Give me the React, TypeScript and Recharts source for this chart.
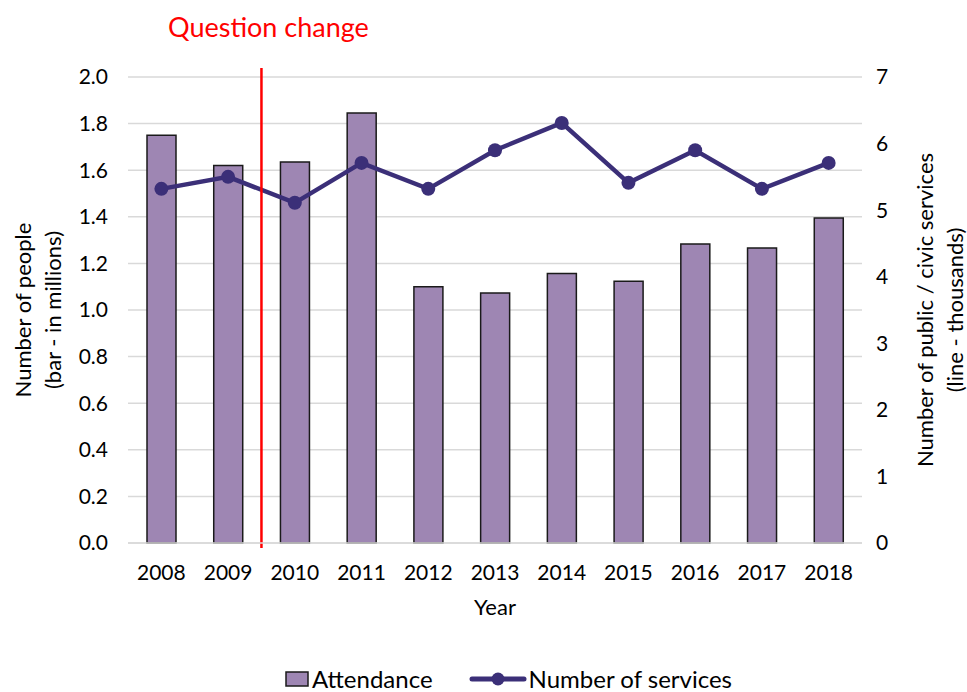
import React from 'react';
import {
  ComposedChart,
  Bar,
  Line,
  XAxis,
  YAxis,
  CartesianGrid,
  Legend,
  ReferenceLine,
} from 'recharts';

const years = ['2008', '2009', '2010', '2011', '2012', '2013', '2014', '2015', '2016', '2017', '2018'];
const attendance = [1.75, 1.62, 1.635, 1.845, 1.1, 1.073, 1.157, 1.123, 1.283, 1.266, 1.395];
const services = [5.32, 5.5, 5.11, 5.71, 5.32, 5.9, 6.31, 5.41, 5.9, 5.32, 5.71];
const leftTicks = [0, 0.2, 0.4, 0.6, 0.8, 1.0, 1.2, 1.4, 1.6, 1.8, 2.0];
const rightTicks = [0, 1, 2, 3, 4, 5, 6, 7];

const data = years.map((year, i) => ({
  year,
  attendance: attendance[i],
  services: services[i],
}));

const FONT = 'Lato, "Open Sans", sans-serif';
const BAR_FILL = '#9e86b3';
const LINE_COLOR = '#3b2f78';

const LeftTitle = (props: any) => {
  const { viewBox } = props;
  const cy = viewBox.y + viewBox.height / 2;
  return (
    <g fontFamily={FONT} fontSize={22} fill="#000">
      <text x={31} y={cy} textAnchor="middle" transform={`rotate(-90, 31, ${cy})`}>
        Number of people
      </text>
      <text x={61} y={cy} textAnchor="middle" transform={`rotate(-90, 61, ${cy})`}>
        (bar - in millions)
      </text>
    </g>
  );
};

const RightTitle = (props: any) => {
  const { viewBox } = props;
  const cy = viewBox.y + viewBox.height / 2;
  const x1 = 933;
  const x2 = 963;
  return (
    <g fontFamily={FONT} fontSize={22} fill="#000">
      <text x={x1} y={cy} textAnchor="middle" transform={`rotate(-90, ${x1}, ${cy})`}>
        Number of public / civic services
      </text>
      <text x={x2} y={cy} textAnchor="middle" transform={`rotate(-90, ${x2}, ${cy})`}>
        (line - thousands)
      </text>
    </g>
  );
};

const ChangeLine = (props: any) => {
  const top = Math.min(props.y1, props.y2);
  const bottom = Math.max(props.y1, props.y2);
  return <line x1={props.x1} x2={props.x2} y1={top - 9} y2={bottom + 5} stroke="#ff0000" strokeWidth={2.5} />;
};

const LegendContent = () => (
  <div
    style={{
      display: 'flex',
      justifyContent: 'center',
      alignItems: 'center',
      fontFamily: FONT,
      fontSize: 24,
      color: '#000',
      paddingLeft: 50,
      lineHeight: '26px',
    }}
  >
    <svg width={24} height={16} style={{ marginRight: 3 }}>
      <rect x={1} y={1} width={22} height={14} fill={BAR_FILL} stroke="#1a1a1a" strokeWidth={1.5} />
    </svg>
    <span style={{ marginRight: 36 }}>Attendance</span>
    <svg width={58} height={16} style={{ marginRight: 2 }}>
      <line x1={3} x2={55} y1={8} y2={8} stroke={LINE_COLOR} strokeWidth={5} strokeLinecap="round" />
      <circle cx={29} cy={8} r={6.5} fill={LINE_COLOR} />
    </svg>
    <span>Number of services</span>
  </div>
);

export default function App() {
  return (
    <div style={{ position: 'absolute', left: 0, top: 0, width: 967, height: 692, background: '#fff' }}>
      <ComposedChart
        width={967}
        height={692}
        data={data}
        margin={{ top: 77, right: 0, left: 0, bottom: 0 }}
        barCategoryGap={0}
      >
        <CartesianGrid vertical={false} stroke="#d9d9d9" strokeWidth={1.5} yAxisId="left" />
        <XAxis
          dataKey="year"
          height={123}
          tickLine={false}
          axisLine={{ stroke: '#d9d9d9', strokeWidth: 1.5 }}
          tickSize={0}
          tickMargin={22}
          tick={{ fontFamily: FONT, fontSize: 21, fill: '#000' }}
          label={{ value: 'Year', position: 'insideTop', offset: 56, style: { fontFamily: FONT, fontSize: 22, fill: '#000' } }}
        />
        <YAxis
          yAxisId="left"
          width={128}
          domain={[0, 2]}
          ticks={leftTicks}
          tickFormatter={(v: number) => v.toFixed(1)}
          tickLine={false}
          axisLine={false}
          tickSize={0}
          tickMargin={20}
          tick={{ fontFamily: FONT, fontSize: 21, fill: '#000' }}
          label={<LeftTitle />}
        />
        <YAxis
          yAxisId="right"
          orientation="right"
          width={105}
          domain={[0, 7]}
          ticks={rightTicks}
          tickLine={false}
          axisLine={false}
          tickSize={0}
          tickMargin={14}
          tick={{ fontFamily: FONT, fontSize: 21, fill: '#000' }}
          label={<RightTitle />}
        />
        <Bar
          yAxisId="left"
          dataKey="attendance"
          name="Attendance"
          fill={BAR_FILL}
          stroke="#1a1a1a"
          strokeWidth={1.5}
          barSize={29}
          isAnimationActive={false}
        />
        <Line
          yAxisId="right"
          dataKey="services"
          name="Number of services"
          stroke={LINE_COLOR}
          strokeWidth={4.5}
          dot={{ r: 7, fill: LINE_COLOR, stroke: LINE_COLOR, strokeWidth: 0 }}
          activeDot={false}
          isAnimationActive={false}
        />
        <ReferenceLine
          yAxisId="left"
          x="2009"
          position="end"
          stroke="#ff0000"
          strokeWidth={2.5}
          shape={ChangeLine}
          label={{
            value: 'Question change',
            position: 'top',
            offset: 40,
            dx: 7,
            style: { fontFamily: FONT, fontSize: 27, fill: '#ff0000' },
          }}
        />
        <Legend verticalAlign="bottom" height={26} content={<LegendContent />} />
      </ComposedChart>
    </div>
  );
}
